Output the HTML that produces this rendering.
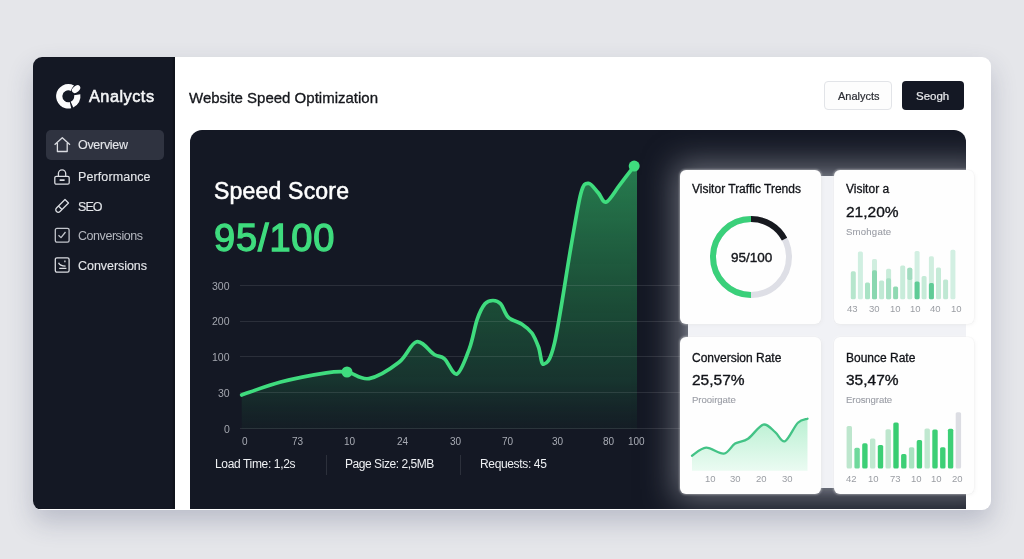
<!DOCTYPE html>
<html><head><meta charset="utf-8">
<style>
*{margin:0;padding:0;box-sizing:border-box}
html,body{width:1024px;height:559px;overflow:hidden}
body{background:#e5e6ea;font-family:"Liberation Sans",sans-serif;position:relative}
.abs{position:absolute}
#main{position:absolute;left:33px;top:57px;width:957.5px;height:452.5px;border-radius:9px;background:#fff;overflow:hidden;box-shadow:0 12px 26px rgba(50,58,95,0.24)}
#side{position:absolute;left:0;top:0;width:141.5px;height:452px;background:#141824;box-shadow:inset -2px 0 1px #0f131c}
.t{position:absolute;white-space:nowrap;line-height:1;will-change:transform}
.nav{position:absolute;left:13px;width:118px;height:30px;border-radius:5px}
#panel{position:absolute;left:157px;top:73px;width:776px;height:379px;background:#141824;border-radius:12px 12px 0 0;overflow:hidden}
.lbl{font-size:9.5px;color:#9a9da3}
.card{position:absolute;background:#fefefe;border-radius:6px;box-shadow:0 0 2px 0.5px rgba(255,255,255,0.35), 0 0 0 0.6px rgba(30,34,50,0.05), 1px 1px 4px rgba(30,34,50,0.06)}
</style></head>
<body>
<div id="main">
  <div id="side">
    <svg class="abs" style="left:20px;top:24px" width="32" height="32" viewBox="53 81 32 32">
      <g fill="#fbfbfc">
        <path d="M71.25,108.14 A12.2,12.2 0 1 1 74.03,85.53 L71.07,91.09 A5.9,5.9 0 1 0 69.73,102.02 Z"/>
        <path d="M80.31,94.18 A12.2,12.2 0 0 1 73.26,107.45 L70.70,101.69 A5.9,5.9 0 0 0 74.11,95.28 Z"/>
        <ellipse cx="76.1" cy="89.1" rx="4.7" ry="3.1" transform="rotate(-40 76.1 89.1)" stroke="#141824" stroke-width="1.4" paint-order="stroke"/>
      </g>
    </svg>
    <div class="t" style="left:56px;top:30.5px;font-size:16.3px;color:#f4f5f7;-webkit-text-stroke:0.55px #f4f5f7;letter-spacing:0.5px">Analycts</div>
    <div class="nav" style="top:73px;background:#2f3340"></div>
    <!-- icons -->
    <svg class="abs" style="left:20px;top:79px" width="18" height="18" viewBox="0 0 18 18" fill="none" stroke="#dadce1" stroke-width="1.3" stroke-linejoin="round">
      <path d="M1.6 8.8 L9.3 1.8 L17 8.8 M4.4 7 V15.5 H14.2 V7"/>
    </svg>
    <div class="t" style="left:45px;top:82px;font-size:12.5px;color:#e4e6ea;-webkit-text-stroke:0.12px #e4e6ea;letter-spacing:-0.3px">Overview</div>
    <svg class="abs" style="left:20px;top:111px" width="18" height="18" viewBox="0 0 18 18" fill="none" stroke="#dadce1" stroke-width="1.3" stroke-linejoin="round">
      <path d="M5.4 8.3 V5.6 A3.65 3.65 0 0 1 12.7 5.6 V8.3"/>
      <rect x="1.8" y="8.3" width="14.4" height="7.9" rx="1.5"/>
      <path d="M6.6 12.2 H11.6" stroke-width="1.8"/>
    </svg>
    <div class="t" style="left:45px;top:114px;font-size:12.5px;color:#e4e6ea;-webkit-text-stroke:0.12px #e4e6ea;letter-spacing:0.1px">Performance</div>
    <svg class="abs" style="left:20px;top:140px" width="18" height="18" viewBox="0 0 18 18" fill="none" stroke="#dadce1" stroke-width="1.3" stroke-linejoin="round">
      <path d="M12 2.5 L15.5 6 L7 14.5 A2.4 2.4 0 0 1 3.5 11 Z M5.5 9 L9 12.5"/>
    </svg>
    <div class="t" style="left:44.5px;top:144px;font-size:12.5px;color:#e4e6ea;-webkit-text-stroke:0.12px #e4e6ea;letter-spacing:-0.9px">SEO</div>
    <svg class="abs" style="left:20px;top:169px" width="18" height="18" viewBox="0 0 18 18" fill="none" stroke="#c2c5cc" stroke-width="1.3" stroke-linejoin="round">
      <rect x="2.3" y="2.4" width="13.8" height="13.8" rx="1.6"/>
      <path d="M5.5 9.2 L8 11.6 L12.5 6"/>
    </svg>
    <div class="t" style="left:45px;top:173px;font-size:12.5px;color:#b4b7bf;letter-spacing:-0.45px">Conversions</div>
    <svg class="abs" style="left:20px;top:199px" width="18" height="18" viewBox="0 0 18 18" fill="none" stroke="#dadce1" stroke-width="1.3" stroke-linejoin="round">
      <rect x="2.3" y="1.8" width="13.8" height="14.4" rx="1.6"/>
      <path d="M5.6 6.7 Q6.5 9.9 12.6 10.1 M11.9 4.5 V6.3 M6.2 12.4 H13.4"/>
    </svg>
    <div class="t" style="left:44.8px;top:203px;font-size:12.5px;color:#e4e6ea;-webkit-text-stroke:0.12px #e4e6ea;letter-spacing:-0.05px">Conversions</div>
  </div>

  <div class="t" style="left:156px;top:33px;font-size:15px;color:#15171c;-webkit-text-stroke:0.32px #15171c">Website Speed Optimization</div>
  <div class="abs" style="left:791px;top:24px;width:68px;height:29px;border:1px solid #e2e4e8;border-radius:4px;background:#fdfdfd"></div>
  <div class="t" style="left:805px;top:34px;font-size:11px;color:#2a2c33;-webkit-text-stroke:0.2px #2a2c33">Analycts</div>
  <div class="abs" style="left:869px;top:24px;width:62px;height:29px;border-radius:4px;background:#141824"></div>
  <div class="t" style="left:883px;top:33.5px;font-size:11.5px;color:#e8e9ec;-webkit-text-stroke:0.2px #e8e9ec">Seogh</div>

  <div id="panel"><div class="abs" style="left:498px;top:46px;width:290px;height:312px;background:#f1f2f6;box-shadow:0 0 30px 12px rgba(195,198,208,0.5), 0 0 8px 2px rgba(150,153,165,0.3)"></div></div>
</div>

<!-- chart overlay in page coords -->
<svg class="abs" style="left:0;top:0" width="1024" height="559">
  <defs>
    <linearGradient id="fillg" x1="0" y1="166" x2="0" y2="429" gradientUnits="userSpaceOnUse">
      <stop offset="0" stop-color="#30ad64" stop-opacity="0.68"/>
      <stop offset="0.55" stop-color="#25904f" stop-opacity="0.42"/>
      <stop offset="0.82" stop-color="#1f6e45" stop-opacity="0.33"/>
      <stop offset="1" stop-color="#1a4a34" stop-opacity="0.12"/>
    </linearGradient>
  </defs>
  <path fill="url(#fillg)" d="M241.7,395.0 C248.2,392.8 266.5,385.7 280.6,382.0 C294.7,378.3 315.2,374.5 326.3,372.8 C337.4,371.1 339.9,371.0 347.0,372.0 C354.1,373.0 360.3,380.2 369.0,378.6 C377.7,377.0 391.1,368.4 399.0,362.3 C406.9,356.2 410.7,343.1 416.6,341.8 C422.5,340.5 429.6,351.7 434.2,354.5 C438.8,357.3 440.7,355.6 444.5,358.8 C448.3,362.1 452.9,375.7 457.0,374.0 C461.1,372.3 466.0,357.7 469.4,348.6 C472.8,339.5 474.6,326.8 477.2,319.3 C479.8,311.8 482.4,306.8 485.0,303.7 C487.6,300.6 490.4,300.5 493.0,300.5 C495.6,300.5 498.0,300.9 500.6,303.7 C503.2,306.5 504.8,313.9 508.4,317.3 C512.0,320.7 518.1,321.6 522.0,324.2 C525.9,326.8 529.1,329.2 531.9,333.0 C534.6,336.8 536.5,341.8 538.5,347.0 C540.5,352.2 540.9,364.8 543.6,364.2 C546.3,363.6 549.9,362.8 554.5,343.2 C559.1,323.6 566.6,271.6 571.0,246.6 C575.4,221.6 578.1,203.4 581.0,192.9 C583.9,182.4 585.7,183.3 588.6,183.3 C591.5,183.3 595.3,189.8 598.3,192.9 C601.2,196.0 602.7,203.3 606.3,202.0 C609.9,200.7 615.1,190.9 619.8,184.9 C624.4,178.9 631.8,169.2 634.2,166.1 L637,166 L637,429 L241.7,429 Z"/>
  <g stroke="#ffffff" stroke-opacity="0.1" stroke-width="1">
    <path d="M240 285.5 H680 M240 321.5 H680 M240 356.5 H680 M240 392.5 H680 M240 428.5 H680"/>
  </g>
  <path fill="none" stroke="#3fdc7e" stroke-width="3.7" stroke-linecap="round" d="M241.7,395.0 C248.2,392.8 266.5,385.7 280.6,382.0 C294.7,378.3 315.2,374.5 326.3,372.8 C337.4,371.1 339.9,371.0 347.0,372.0 C354.1,373.0 360.3,380.2 369.0,378.6 C377.7,377.0 391.1,368.4 399.0,362.3 C406.9,356.2 410.7,343.1 416.6,341.8 C422.5,340.5 429.6,351.7 434.2,354.5 C438.8,357.3 440.7,355.6 444.5,358.8 C448.3,362.1 452.9,375.7 457.0,374.0 C461.1,372.3 466.0,357.7 469.4,348.6 C472.8,339.5 474.6,326.8 477.2,319.3 C479.8,311.8 482.4,306.8 485.0,303.7 C487.6,300.6 490.4,300.5 493.0,300.5 C495.6,300.5 498.0,300.9 500.6,303.7 C503.2,306.5 504.8,313.9 508.4,317.3 C512.0,320.7 518.1,321.6 522.0,324.2 C525.9,326.8 529.1,329.2 531.9,333.0 C534.6,336.8 536.5,341.8 538.5,347.0 C540.5,352.2 540.9,364.8 543.6,364.2 C546.3,363.6 549.9,362.8 554.5,343.2 C559.1,323.6 566.6,271.6 571.0,246.6 C575.4,221.6 578.1,203.4 581.0,192.9 C583.9,182.4 585.7,183.3 588.6,183.3 C591.5,183.3 595.3,189.8 598.3,192.9 C601.2,196.0 602.7,203.3 606.3,202.0 C609.9,200.7 615.1,190.9 619.8,184.9 C624.4,178.9 631.8,169.2 634.2,166.1"/>
  <circle cx="347" cy="372" r="5.5" fill="#3fdc7e"/>
  <circle cx="634.2" cy="166.1" r="5.5" fill="#3fdc7e"/>
</svg>

<!-- panel text -->
<div class="t" style="left:213.5px;top:180px;font-size:23px;color:#fff;-webkit-text-stroke:0.55px #fff;letter-spacing:0.2px">Speed Score</div>
<div class="t" style="left:214px;top:219px;font-size:38px;color:#3fdc7e;-webkit-text-stroke:1.3px #3fdc7e;letter-spacing:0.85px">95/100</div>
<div class="t" style="right:794.5px;top:280.7px;font-size:10.5px;color:#a4a7af">300</div>
<div class="t" style="right:794.5px;top:315.5px;font-size:10.5px;color:#a4a7af">200</div>
<div class="t" style="right:794.5px;top:352px;font-size:10.5px;color:#a4a7af">100</div>
<div class="t" style="right:794.5px;top:387.5px;font-size:10.5px;color:#a4a7af">30</div>
<div class="t" style="right:794.5px;top:423.7px;font-size:10.5px;color:#a4a7af">0</div>
<div class="t" style="left:242px;top:437px;font-size:10px;color:#a9acb5">0</div>
<div class="t" style="left:292px;top:437px;font-size:10px;color:#a9acb5">73</div>
<div class="t" style="left:344px;top:437px;font-size:10px;color:#a9acb5">10</div>
<div class="t" style="left:397px;top:437px;font-size:10px;color:#a9acb5">24</div>
<div class="t" style="left:450px;top:437px;font-size:10px;color:#a9acb5">30</div>
<div class="t" style="left:502px;top:437px;font-size:10px;color:#a9acb5">70</div>
<div class="t" style="left:552px;top:437px;font-size:10px;color:#a9acb5">30</div>
<div class="t" style="left:603px;top:437px;font-size:10px;color:#a9acb5">80</div>
<div class="t" style="left:628px;top:437px;font-size:10px;color:#a9acb5">100</div>
<div class="t" style="left:215px;top:458px;font-size:12px;color:#eef0f3;letter-spacing:-0.35px">Load Time: 1,2s</div>
<div class="abs" style="left:326px;top:455px;width:1px;height:20px;background:#2c303b"></div>
<div class="t" style="left:345px;top:458px;font-size:12px;color:#eef0f3;letter-spacing:-0.45px">Page Size: 2,5MB</div>
<div class="abs" style="left:460px;top:455px;width:1px;height:20px;background:#2c303b"></div>
<div class="t" style="left:480px;top:458px;font-size:12px;color:#eef0f3;letter-spacing:-0.35px">Requests: 45</div>

<!-- card area -->
<div class="card" style="left:679.5px;top:170px;width:141px;height:154px"></div>
<div class="card" style="left:834px;top:170px;width:140px;height:154px"></div>
<div class="card" style="left:679.5px;top:337px;width:141.5px;height:157px"></div>
<div class="card" style="left:834px;top:337px;width:140px;height:157px"></div>

<!-- card1 -->
<div class="t" style="left:692px;top:183px;font-size:12px;color:#111318;-webkit-text-stroke:0.3px #111318">Visitor Traffic Trends</div>
<svg class="abs" style="left:700px;top:206px" width="102" height="102" viewBox="0 0 102 102">
  <g transform="translate(51,51) rotate(-90)" fill="none" stroke-width="6">
    <circle r="38" stroke="#dedfe6"/>
    <circle r="38" stroke="#3ad07a" stroke-dasharray="119.4 500" transform="rotate(180)"/>
    <circle r="38" stroke="#17191f" stroke-dasharray="41 500"/>
  </g>
</svg>
<div class="t" style="left:730.5px;top:251px;font-size:13.5px;color:#15171c;-webkit-text-stroke:0.4px #15171c">95/100</div>

<!-- card2 -->
<div class="t" style="left:846px;top:183px;font-size:12px;color:#111318;-webkit-text-stroke:0.3px #111318">Visitor a</div>
<div class="t" style="left:846px;top:204px;font-size:15.5px;color:#111318;-webkit-text-stroke:0.35px #111318">21,20%</div>
<div class="t" style="left:846px;top:226.5px;font-size:9.6px;color:#9a9da5;letter-spacing:0.2px;-webkit-text-stroke:0.1px #9a9da5">Smohgate</div>

<!-- card3 -->
<div class="t" style="left:692px;top:351.5px;font-size:12px;color:#111318;-webkit-text-stroke:0.3px #111318">Conversion Rate</div>
<div class="t" style="left:692px;top:372px;font-size:15.5px;color:#111318;-webkit-text-stroke:0.35px #111318">25,57%</div>
<div class="t" style="left:692px;top:394.5px;font-size:9.6px;color:#9a9da5;letter-spacing:-0.05px;-webkit-text-stroke:0.1px #9a9da5">Prooirgate</div>

<!-- card4 -->
<div class="t" style="left:846px;top:351.5px;font-size:12px;color:#111318;-webkit-text-stroke:0.3px #111318">Bounce Rate</div>
<div class="t" style="left:846px;top:372px;font-size:15.5px;color:#111318;-webkit-text-stroke:0.35px #111318">35,47%</div>
<div class="t" style="left:846px;top:394.5px;font-size:9.6px;color:#9a9da5;letter-spacing:-0.1px;-webkit-text-stroke:0.1px #9a9da5">Erosngrate</div>


<!-- card charts -->
<svg class="abs" style="left:0;top:0" width="1024" height="559">
  <defs>
    <linearGradient id="ag" x1="0" y1="418" x2="0" y2="471" gradientUnits="userSpaceOnUse">
      <stop offset="0" stop-color="#b9f0d2"/>
      <stop offset="1" stop-color="#ebfbf2"/>
    </linearGradient>
  </defs>
  <path fill="url(#ag)" d="M692.0,455.7 C694.4,454.4 700.8,448.0 706.1,447.7 C711.4,447.4 719.0,454.3 723.8,453.6 C728.6,452.9 731.1,446.1 735.1,443.6 C739.1,441.1 743.3,442.0 748.0,438.8 C752.7,435.6 758.7,425.7 763.3,424.6 C767.9,423.5 771.8,429.6 775.4,432.4 C779.0,435.2 781.2,442.8 785.0,441.2 C788.8,439.6 794.1,426.4 797.9,422.7 C801.6,418.9 805.9,419.4 807.5,418.7 L807.5,470.7 L692,470.7 Z"/>
  <path fill="none" stroke="#43c386" stroke-width="2.3" stroke-linecap="round" d="M692.0,455.7 C694.4,454.4 700.8,448.0 706.1,447.7 C711.4,447.4 719.0,454.3 723.8,453.6 C728.6,452.9 731.1,446.1 735.1,443.6 C739.1,441.1 743.3,442.0 748.0,438.8 C752.7,435.6 758.7,425.7 763.3,424.6 C767.9,423.5 771.8,429.6 775.4,432.4 C779.0,435.2 781.2,442.8 785.0,441.2 C788.8,439.6 794.1,426.4 797.9,422.7 C801.6,418.9 805.9,419.4 807.5,418.7"/>
<rect x="850.8" y="271.3" width="5" height="28.0" rx="1.6" fill="#b6e6cd"/>
<rect x="857.9" y="251.4" width="5" height="47.9" rx="1.6" fill="#d0efe1"/>
<rect x="865.0" y="282.6" width="5" height="16.7" rx="1.6" fill="#a9e3c5"/>
<rect x="872.0" y="259.0" width="5" height="40.3" rx="1.6" fill="#d0eedf"/>
<rect x="872.0" y="270.2" width="5" height="29.1" rx="1.6" fill="#8ad7b0"/>
<rect x="879.1" y="280.4" width="5" height="18.9" rx="1.6" fill="#c0e9d4"/>
<rect x="886.1" y="268.8" width="5" height="30.5" rx="1.6" fill="#c9ecda"/>
<rect x="886.1" y="278.3" width="5" height="21.0" rx="1.6" fill="#a6e0c3"/>
<rect x="893.1" y="286.4" width="5" height="12.9" rx="1.6" fill="#8fd9b2"/>
<rect x="900.2" y="265.4" width="5" height="33.9" rx="1.6" fill="#c8ecda"/>
<rect x="907.3" y="267.8" width="5" height="31.5" rx="1.6" fill="#c6ebd8"/>
<rect x="914.6" y="250.9" width="5" height="48.4" rx="1.6" fill="#d2efe2"/>
<rect x="914.6" y="281.5" width="5" height="17.8" rx="1.6" fill="#5fcb96"/>
<rect x="921.6" y="276.1" width="5" height="23.2" rx="1.6" fill="#c6ebd8"/>
<rect x="928.9" y="256.3" width="5" height="43.0" rx="1.6" fill="#d0eedf"/>
<rect x="928.9" y="283.1" width="5" height="16.2" rx="1.6" fill="#5fcb96"/>
<rect x="936.0" y="267.6" width="5" height="31.7" rx="1.6" fill="#c6ebd8"/>
<rect x="943.1" y="279.4" width="5" height="19.9" rx="1.6" fill="#bfe8d3"/>
<rect x="950.4" y="249.8" width="5" height="49.5" rx="1.6" fill="#d2efe2"/>
<rect x="907.3" y="267.8" width="5" height="12.1" rx="1.6" fill="#a2dcc0"/>
<rect x="846.6" y="425.9" width="5.4" height="42.7" rx="1.6" fill="#bde6cd"/>
<rect x="854.4" y="447.7" width="5.4" height="20.9" rx="1.6" fill="#6fd99c"/>
<rect x="862.2" y="443.3" width="5.4" height="25.3" rx="1.6" fill="#3dcf76"/>
<rect x="870.0" y="438.5" width="5.4" height="30.1" rx="1.6" fill="#c0e8d0"/>
<rect x="877.8" y="445.0" width="5.4" height="23.6" rx="1.6" fill="#3dcf76"/>
<rect x="885.5" y="429.2" width="5.4" height="39.4" rx="1.6" fill="#bde6cd"/>
<rect x="893.3" y="422.4" width="5.4" height="46.2" rx="1.6" fill="#38cd72"/>
<rect x="901.1" y="454.1" width="5.4" height="14.5" rx="1.6" fill="#3dcf76"/>
<rect x="908.9" y="447.2" width="5.4" height="21.4" rx="1.6" fill="#a8e3c0"/>
<rect x="916.7" y="440.1" width="5.4" height="28.5" rx="1.6" fill="#3dcf76"/>
<rect x="924.5" y="428.4" width="5.4" height="40.2" rx="1.6" fill="#c0e8d0"/>
<rect x="932.3" y="429.5" width="5.4" height="39.1" rx="1.6" fill="#3dcf76"/>
<rect x="940.1" y="447.2" width="5.4" height="21.4" rx="1.6" fill="#3dcf76"/>
<rect x="947.9" y="428.7" width="5.4" height="39.9" rx="1.6" fill="#3dcf76"/>
<rect x="955.7" y="412.2" width="5.4" height="56.4" rx="1.6" fill="#dcdde3"/>

</svg>
<div class="t lbl" style="left:847px;top:304px">43</div>
<div class="t lbl" style="left:869px;top:304px">30</div>
<div class="t lbl" style="left:890px;top:304px">10</div>
<div class="t lbl" style="left:910px;top:304px">10</div>
<div class="t lbl" style="left:930px;top:304px">40</div>
<div class="t lbl" style="left:951px;top:304px">10</div>
<div class="t lbl" style="left:705px;top:474px">10</div>
<div class="t lbl" style="left:730px;top:474px">30</div>
<div class="t lbl" style="left:756px;top:474px">20</div>
<div class="t lbl" style="left:782px;top:474px">30</div>
<div class="t lbl" style="left:846px;top:474px">42</div>
<div class="t lbl" style="left:868px;top:474px">10</div>
<div class="t lbl" style="left:890px;top:474px">73</div>
<div class="t lbl" style="left:911px;top:474px">10</div>
<div class="t lbl" style="left:931px;top:474px">10</div>
<div class="t lbl" style="left:952px;top:474px">20</div>

</body></html>
